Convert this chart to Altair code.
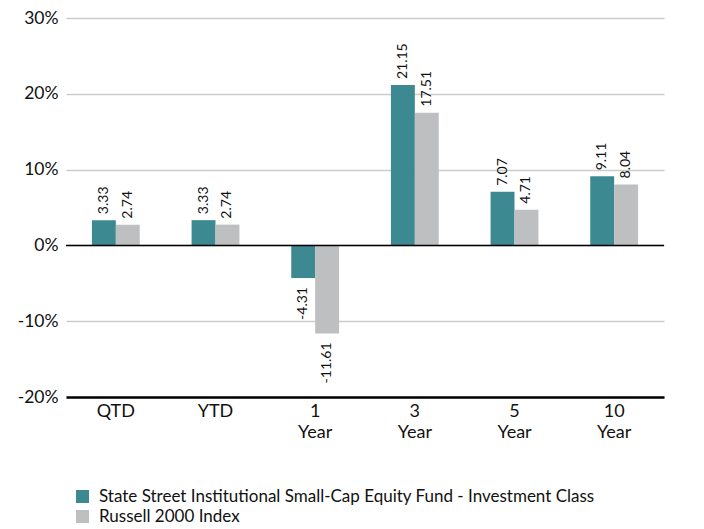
import altair as alt
import pandas as pd

categories = ["QTD", "YTD", "1 Year", "3 Year", "5 Year", "10 Year"]
fund_name = "State Street Institutional Small-Cap Equity Fund - Investment Class"
index_name = "Russell 2000 Index"
fund_values = [3.33, 3.33, -4.31, 21.15, 7.07, 9.11]
index_values = [2.74, 2.74, -11.61, 17.51, 4.71, 8.04]
y_ticks = [-20, -10, 0, 10, 20, 30]

rows = []
for c, f, i in zip(categories, fund_values, index_values):
    rows.append({"cat": c, "series": fund_name, "value": f})
    rows.append({"cat": c, "series": index_name, "value": i})
df = pd.DataFrame(rows)

FONT = "Lato"
teal = "#3d8991"
gray = "#bebfc1"

x_enc = alt.X("cat:N", sort=categories, title=None,
              scale=alt.Scale(paddingInner=0.52, paddingOuter=0.26),
              axis=alt.Axis(labelAngle=0, labelExpr="split(datum.label, ' ')",
                            labelFontSize=18, labelFont=FONT, labelColor="#111",
                            labelLineHeight=21, labelPadding=5,
                            domainColor="#000", domainWidth=2.5, ticks=False,
                            grid=False))
y_scale = alt.Scale(domain=[-20, 30], nice=False)
xoff = alt.XOffset("series:N", sort=[fund_name, index_name])

bars = alt.Chart(df).mark_bar().encode(
    x=x_enc,
    xOffset=xoff,
    y=alt.Y("value:Q", scale=y_scale, title=None,
            axis=alt.Axis(values=y_ticks, labelExpr="datum.value + '%'",
                          labelFontSize=17.5, labelFont=FONT, labelColor="#111",
                          labelPadding=8, domain=False, ticks=False,
                          gridColor="#cccccc", gridWidth=1.5)),
    color=alt.Color("series:N", sort=[fund_name, index_name],
                    scale=alt.Scale(domain=[fund_name, index_name], range=[teal, gray]),
                    legend=alt.Legend(title=None, orient="none", legendX=8, legendY=470,
                                      symbolType="square", symbolSize=170,
                                      symbolStrokeWidth=0, labelFontSize=17,
                                      labelFont=FONT, labelColor="#111", labelLimit=0,
                                      rowPadding=2, labelOffset=8)),
)

zero = alt.Chart(pd.DataFrame({"z": [0]})).mark_rule(color="#000", strokeWidth=1.5).encode(
    y=alt.Y("z:Q", scale=y_scale))

lab = "replace(format(datum.value, '.2f'), '\u2212', '-')"

pos = alt.Chart(df).transform_filter("datum.value >= 0").transform_calculate(
    lab=lab
).mark_text(
    angle=270, align="left", baseline="middle", dx=6, fontSize=14, font=FONT, color="#111"
).encode(
    x=alt.X("cat:N", sort=categories),
    xOffset=xoff,
    y=alt.Y("value:Q", scale=y_scale),
    text="lab:N",
)
neg = alt.Chart(df).transform_filter("datum.value < 0").transform_calculate(
    lab=lab
).mark_text(
    angle=270, align="right", baseline="middle", dx=-9, fontSize=14, font=FONT, color="#111"
).encode(
    x=alt.X("cat:N", sort=categories),
    xOffset=xoff,
    y=alt.Y("value:Q", scale=y_scale),
    text="lab:N",
)

chart = alt.layer(bars, zero, pos, neg).properties(
    width=598, height=379,
    autosize=alt.AutoSizeParams(type="none"),
    padding={"left": 58, "top": 10, "right": 32, "bottom": 130},
).configure_view(stroke=None)

chart.save("out.html", embed_options={"renderer": "svg", "actions": False})
